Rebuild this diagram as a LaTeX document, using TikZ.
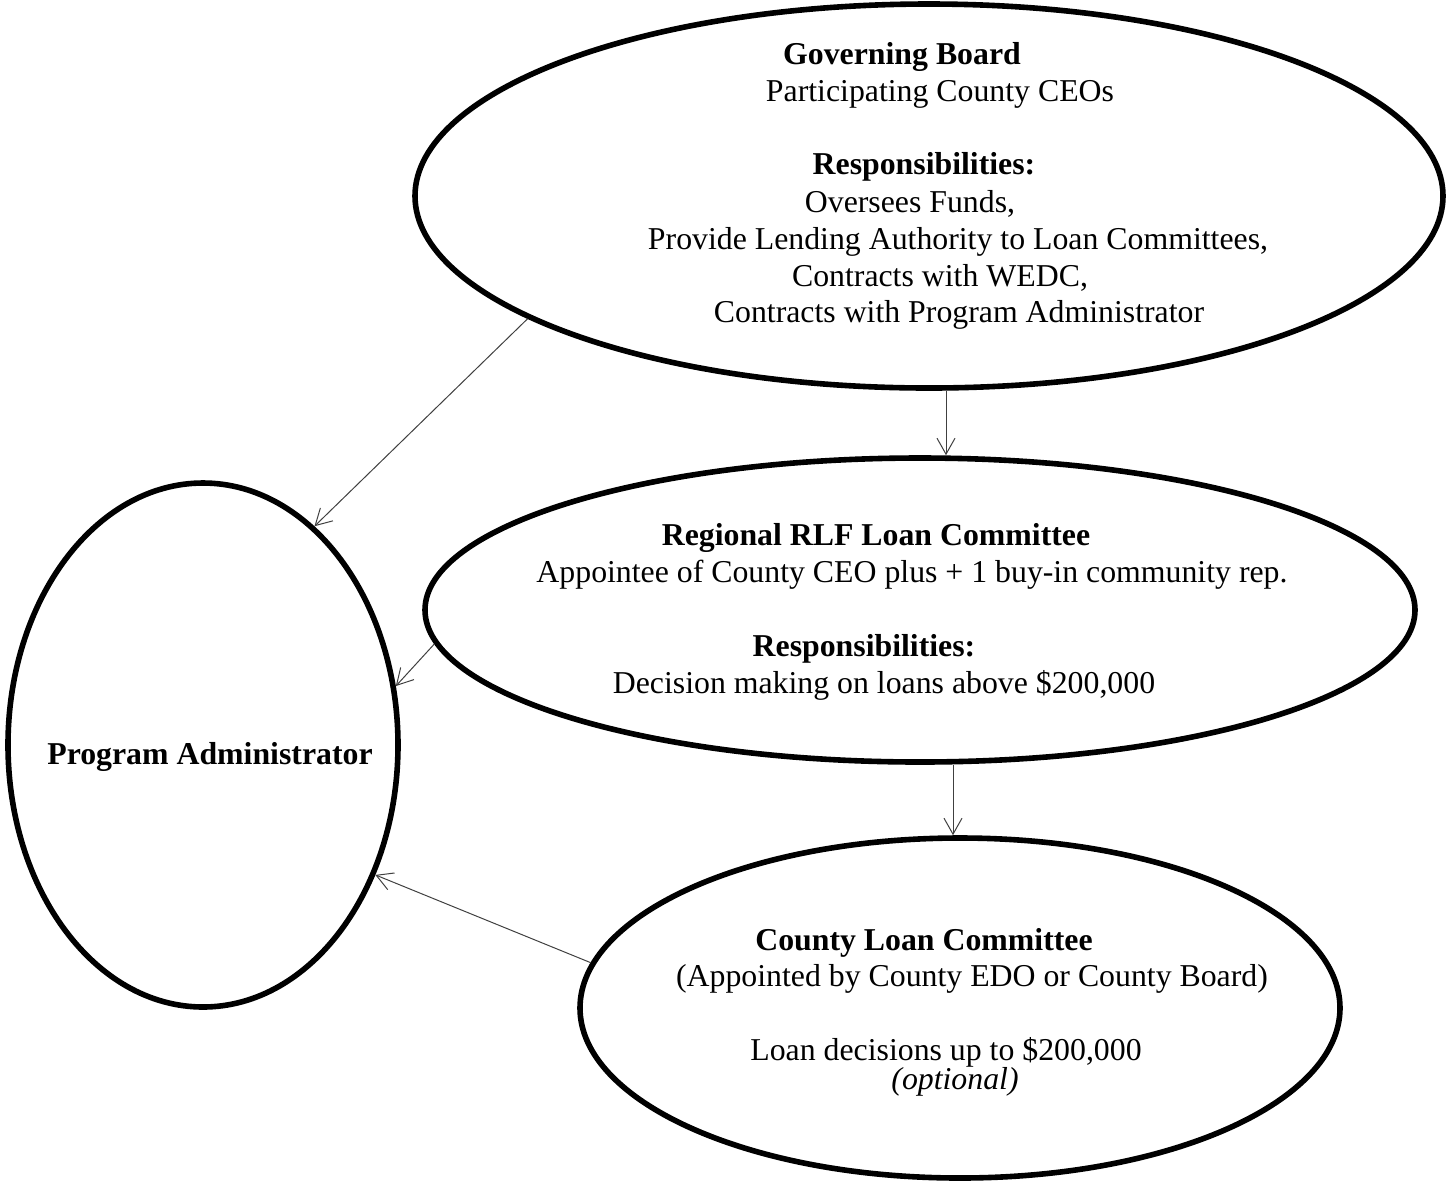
\documentclass[tikz,border=0pt]{standalone}
\usepackage{fontspec}
\setmainfont{Liberation Serif}
\usetikzlibrary{shapes.geometric,arrows.meta,calc}
\begin{document}
\begin{tikzpicture}[x=0.5pt,y=-0.5pt,
  oval/.style={draw=black,line width=2.8pt,ellipse,inner sep=0pt},
  txt/.style={inner sep=0pt,font=\fontsize{15.9}{19}\selectfont},
  btxt/.style={txt,font=\fontsize{15.9}{19}\selectfont\bfseries},
  arr/.style={draw=black!75,line width=0.5pt,-{Straight Barb[length=8pt,width=9pt,line width=0.5pt]}}]
\useasboundingbox (0,0) rectangle (1452,1180);
% ellipses
\node[oval,minimum width=1028pt*0.5,minimum height=384pt*0.5] (gb) at (929,196) {};
\node[oval,minimum width=990pt*0.5,minimum height=304pt*0.5] (rlf) at (920,610) {};
\node[oval,minimum width=760pt*0.5,minimum height=340pt*0.5] (clc) at (960,1008) {};
\node[oval,minimum width=390pt*0.5,minimum height=524pt*0.5] (pa) at (203,745) {};
% Governing board text
\node[btxt] (gb1) at (902,57) {Governing Board};
\node[txt] (gb2) at (940,94) {Participating County CEOs};
\node[btxt] (gb3) at (924,167) {Responsibilities:};
\node[txt] (gb4) at (910,204) {Oversees Funds,};
\node[txt] (gb5) at (958,242) {Provide Lending Authority to Loan Committees,};
\node[txt] (gb6) at (940,278) {Contracts with WEDC,};
\node[txt] (gb7) at (959,315) {Contracts with Program Administrator};
% Regional RLF text
\node[btxt] (r1) at (876,538) {Regional RLF Loan Committee};
\node[txt] (r2) at (912,575) {Appointee of County CEO plus + 1 buy-in community rep.};
\node[btxt] (r3) at (864,649) {Responsibilities:};
\node[txt] (r4) at (884,685) {Decision making on loans above \$200,000};
% County loan committee text
\node[btxt] (c1) at (924,943) {County Loan Committee};
\node[txt] (c2) at (972,979) {(Appointed by County EDO or County Board)};
\node[txt] (c3) at (946,1052) {Loan decisions up to \$200,000};
\node[txt,font=\fontsize{15.9}{19}\selectfont\itshape] (c4) at (955,1082) {(optional)};
% Program administrator
\node[btxt] (p1) at (210,757) {Program Administrator};
% connectors
\draw[arr] (gb.197.3) -- (pa.63.5);
\draw[arr] ($(gb.south)+(17,0)$) -- ($(rlf.north)+(26,0)$);
\draw[arr] (rlf.184.6) -- (pa.17.4);
\draw[arr] ($(rlf.south)+(33,0)$) -- ($(clc.north)+(-7,0)$);
\draw[arr] (clc.173.4) -- (pa.-37.3);
\end{tikzpicture}
\end{document}
